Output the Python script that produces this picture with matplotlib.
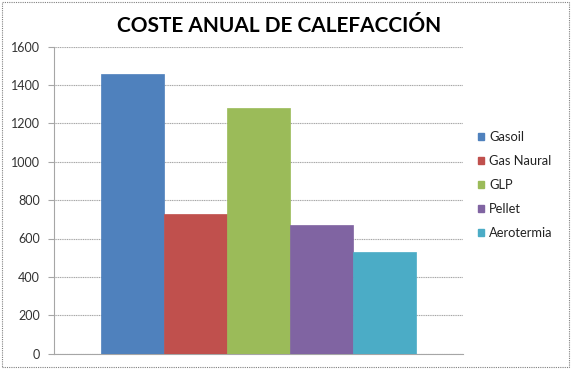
import matplotlib
matplotlib.use("Agg")
import matplotlib.pyplot as plt
from matplotlib.patches import Rectangle, Patch

title = "COSTE ANUAL DE CALEFACCIÓN"
series = ["Gasoil", "Gas Naural", "GLP", "Pellet", "Aerotermia"]
values = [1455, 726, 1282, 670, 528]
colors = ["#4F81BD", "#C0504D", "#9BBB59", "#8064A2", "#4BACC6"]
yticks = [0, 200, 400, 600, 800, 1000, 1200, 1400, 1600]

plt.rcParams['font.family'] = ['Lato', 'DejaVu Sans']

fig = plt.figure(figsize=(5.71, 3.69), dpi=100)
ax = fig.add_axes([54/571, 1-353.7/369, (463-54)/571, (353.7-46.5)/369])

n = len(series)
gap = 1.5
for i, (s, v, c) in enumerate(zip(series, values, colors)):
    ax.bar(i, v, width=1.0, color=c, edgecolor=c, linewidth=0.5, label=s, zorder=3)

ax.set_xlim(-0.5 - gap/2, n - 0.5 + gap/2)
ax.set_ylim(0, 1600)
ax.set_yticks(yticks)
ax.set_yticklabels([str(t) for t in yticks])
ax.set_xticks([])
ax.yaxis.grid(True, color="#A6A6A6", linewidth=0.8, linestyle=(0, (1, 0.6)), zorder=0)
for sp in ["top", "right"]:
    ax.spines[sp].set_visible(False)
ax.spines["left"].set_color("#A6A6A6")
ax.spines["bottom"].set_color("#A6A6A6")
ax.spines["left"].set_linewidth(0.8)
ax.spines["bottom"].set_linewidth(0.8)
ax.tick_params(axis="y", length=4, width=0.8, color="#A6A6A6", labelsize=9, labelcolor="#333333", pad=6)

handles = [Patch(facecolor=c, edgecolor=c) for c in colors]
leg = fig.legend(handles, series, loc="upper left", bbox_to_anchor=(478/571, 1-131/369),
                 frameon=False, fontsize=9.3, handlelength=0.5, handleheight=0.5,
                 handletextpad=0.35, labelspacing=0.93, borderaxespad=0, borderpad=0)
for t in leg.get_texts():
    t.set_color("#222222")

fig.text(279/571, 1-26/369, title, ha="center", va="center", fontsize=15, fontweight="bold", color="black")

fig.patches.append(Rectangle((2/571, 2/369), 567/571, 365/369, transform=fig.transFigure,
                             fill=False, edgecolor="#808080", linewidth=0.8, linestyle=(0, (1, 1))))

fig.savefig("out.png", dpi=100)
